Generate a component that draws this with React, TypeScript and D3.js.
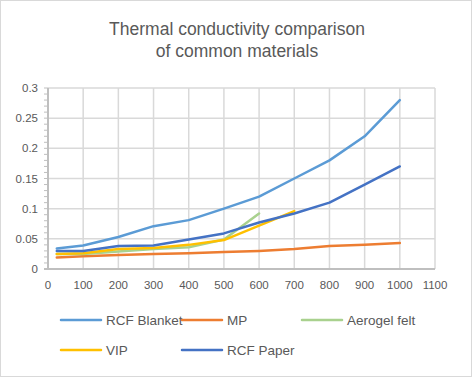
import React from "react";
import * as d3 from "d3";

const xs = [25, 100, 200, 300, 400, 500, 600, 700, 800, 900, 1000];
const rcfBlanket = [0.034, 0.039, 0.053, 0.071, 0.081, 0.1, 0.12, 0.15, 0.18, 0.22, 0.28];
const mp = [0.019, 0.021, 0.023, 0.025, 0.026, 0.028, 0.03, 0.033, 0.038, 0.04, 0.043];
const aerogel = [0.025, 0.025, 0.029, 0.033, 0.036, 0.049, 0.092];
const vip = [0.025, 0.026, 0.033, 0.035, 0.04, 0.048, 0.072, 0.096];
const rcfPaper = [0.03, 0.03, 0.038, 0.039, 0.049, 0.059, 0.077, 0.092, 0.11, 0.14, 0.17];

const seriesNames = ["RCF Blanket", "MP", "Aerogel felt", "VIP", "RCF Paper"];
const seriesValues = [rcfBlanket, mp, aerogel, vip, rcfPaper];
const seriesColors = ["#5B9BD5", "#ED7D31", "#A9D18E", "#FFC000", "#4472C4"];
const xTicks = [0, 100, 200, 300, 400, 500, 600, 700, 800, 900, 1000, 1100];
const yTicks = [0, 0.05, 0.1, 0.15, 0.2, 0.25, 0.3];
const titleLines = ["Thermal conductivity comparison", "of common materials"];

export default function App() {
  const W = 472, H = 377;
  const x = d3.scaleLinear().domain([0, 1100]).range([48, 435]);
  const y = d3.scaleLinear().domain([0, 0.3]).range([269, 88]);
  const line = d3.line<[number, number]>().x(d => x(d[0])).y(d => y(d[1]));
  const minor = d3.range(0, 0.3001, 0.01);
  const font = "'Liberation Sans', Arial, sans-serif";
  const legendPos = [
    [61, 320], [182, 320], [302, 320], [61, 350], [182, 350],
  ];
  return (
    <svg width={W} height={H} style={{ position: "absolute", left: 0, top: 0, background: "#fff" }} fontFamily={font}>
      <rect x={0.5} y={0.5} width={W - 1} height={H - 1} fill="#fff" stroke="#d9d9d9" />
      {titleLines.map((t, i) => (
        <text key={i} x={237} y={35 + i * 21.5} textAnchor="middle" fontSize={17.5} fill="#595959">{t}</text>
      ))}
      {yTicks.slice(1).map(v => (
        <line key={"gy" + v} x1={x(0)} x2={x(1100)} y1={y(v)} y2={y(v)} stroke="#d9d9d9" strokeWidth={1.5} />
      ))}
      {xTicks.slice(1).map(v => (
        <line key={"gx" + v} x1={x(v)} x2={x(v)} y1={y(0)} y2={y(0.3)} stroke="#d9d9d9" strokeWidth={1.5} />
      ))}
      {minor.map((v, i) => (
        <line key={"m" + i} x1={x(0) - 4} x2={x(0)} y1={y(v)} y2={y(v)} stroke="#bfbfbf" strokeWidth={1} />
      ))}
      <line x1={x(0)} x2={x(0)} y1={y(0) + 1} y2={y(0.3)} stroke="#bfbfbf" strokeWidth={2} />
      <line x1={x(0) - 4} x2={x(1100)} y1={y(0)} y2={y(0)} stroke="#bfbfbf" strokeWidth={2} />
      {yTicks.map(v => (
        <text key={"ty" + v} x={38} y={y(v) + 4} textAnchor="end" fontSize={11.5} fill="#595959">{String(v)}</text>
      ))}
      {xTicks.map(v => (
        <text key={"tx" + v} x={x(v)} y={289} textAnchor="middle" fontSize={11.5} fill="#595959">{String(v)}</text>
      ))}
      {seriesValues.map((vals, i) => (
        <path key={"s" + i} d={line(vals.map((v, j) => [xs[j], v] as [number, number])) || ""} fill="none"
          stroke={seriesColors[i]} strokeWidth={2.5} strokeLinejoin="round" strokeLinecap="round" />
      ))}
      {seriesNames.map((n, i) => (
        <g key={"l" + i}>
          <line x1={legendPos[i][0]} x2={legendPos[i][0] + 40} y1={legendPos[i][1]} y2={legendPos[i][1]}
            stroke={seriesColors[i]} strokeWidth={2.5} strokeLinecap="round" />
          <text x={legendPos[i][0] + 45} y={legendPos[i][1] + 5} fontSize={13.5} fill="#595959">{n}</text>
        </g>
      ))}
    </svg>
  );
}
